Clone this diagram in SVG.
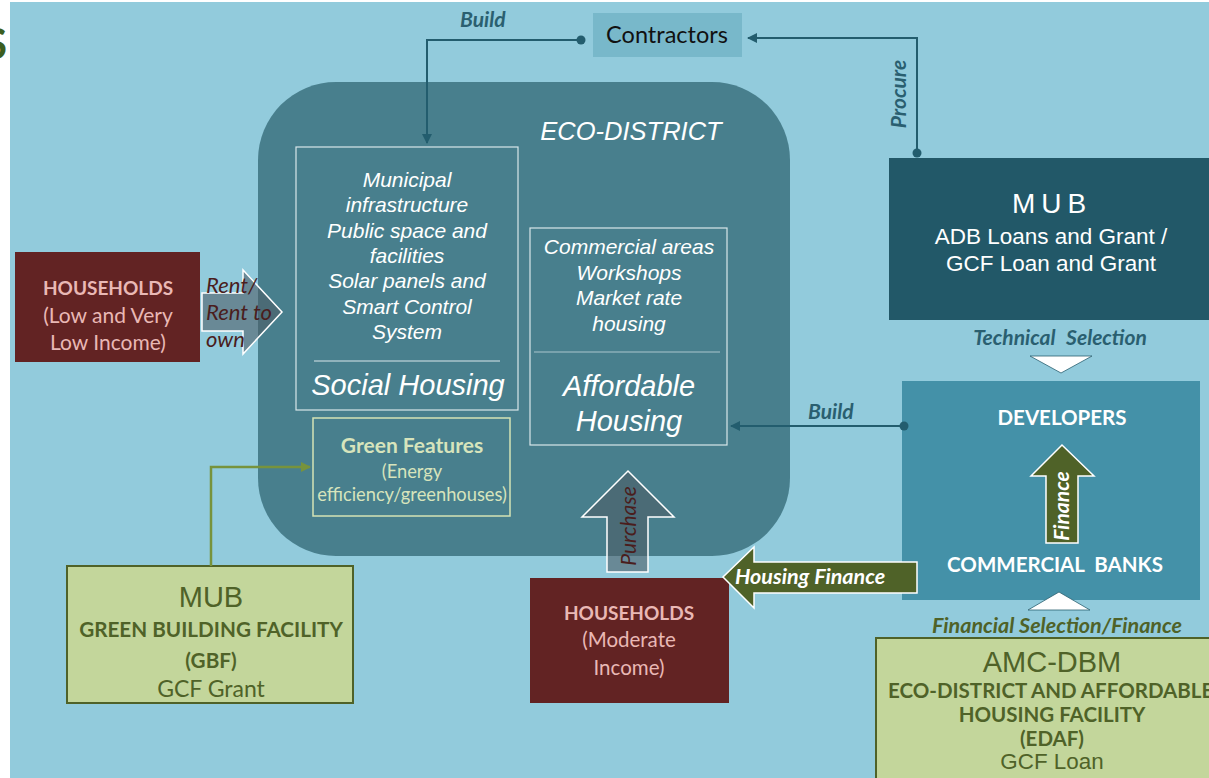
<svg xmlns="http://www.w3.org/2000/svg" width="1209" height="778" viewBox="0 0 1209 778">
<style>
.cal{font-family:Lato,"Open Sans","Liberation Sans",sans-serif}
.ar{font-family:"Liberation Sans",Arial,sans-serif}
.wi{fill:#ffffff;font-style:italic;text-anchor:middle}
.lbl{fill:#2a5f70;font-weight:bold;font-style:italic}
.hh{fill:#e9b8b5;text-anchor:middle}
.gr{fill:#4f6228;text-anchor:middle}
.conn{stroke:#235d6e;stroke-width:2;fill:none}
.gconn{stroke:#77933c;stroke-width:2.5;fill:none}
.garrow{fill:#4f6228;stroke:#ffffff;stroke-width:1.5}
.parrow{fill:#4e5e68;fill-opacity:0.6;stroke:#ffffff;stroke-width:1.5}
.gbox{fill:#c3d69b;stroke:#4f6228;stroke-width:2}
.mbox{fill:#622323}
</style>
<defs>
<marker id="ah" viewBox="0 0 10 10" refX="9" refY="5" markerWidth="5" markerHeight="5" orient="auto" markerUnits="strokeWidth"><path d="M0,0 L10,5 L0,10 z" fill="#235d6e"/></marker>
<marker id="gah" viewBox="0 0 10 10" refX="9" refY="5" markerWidth="4" markerHeight="4" orient="auto" markerUnits="strokeWidth"><path d="M0,0 L10,5 L0,10 z" fill="#77933c"/></marker>
</defs>
<rect x="0" y="0" width="1209" height="778" fill="#ffffff"/>
<rect x="10" y="2" width="1199" height="776" fill="#92cbdc"/>
<text x="-16" y="59" class="cal" font-size="42" font-weight="bold" fill="#3b5e20">S</text>

<g id="eco-district">
<rect x="258" y="82" width="532" height="474" rx="78" ry="78" fill="#487f8d"/>
<text x="631" y="140" class="ar wi" font-size="25.5">ECO-DISTRICT</text>
</g>

<g id="social-housing">
<rect x="296" y="147" width="222" height="263" fill="none" stroke="#d9e7ea" stroke-width="1.2"/>
<text class="ar wi" font-size="21"><tspan x="407" y="187">Municipal</tspan><tspan x="407" y="212">infrastructure</tspan><tspan x="407" y="238">Public space and</tspan><tspan x="407" y="263">facilities</tspan><tspan x="407" y="288">Solar panels and</tspan><tspan x="407" y="314">Smart Control</tspan><tspan x="407" y="339">System</tspan></text>
<line x1="314" y1="361" x2="500" y2="361" stroke="#d9e7ea" stroke-width="1"/>
<text x="408" y="395" class="ar wi" font-size="29">Social Housing</text>
</g>

<g id="affordable-housing">
<rect x="530" y="228" width="197" height="217" fill="none" stroke="#d9e7ea" stroke-width="1.2"/>
<text class="ar wi" font-size="21"><tspan x="629" y="254">Commercial areas</tspan><tspan x="629" y="280">Workshops</tspan><tspan x="629" y="305">Market rate</tspan><tspan x="629" y="331">housing</tspan></text>
<line x1="534" y1="352" x2="720" y2="352" stroke="#a9c6ce" stroke-width="1.2"/>
<text class="ar wi" font-size="29"><tspan x="629" y="396">Affordable</tspan><tspan x="629" y="431">Housing</tspan></text>
</g>

<g id="green-features">
<rect x="313" y="418" width="197" height="98" fill="none" stroke="#d4e3b5" stroke-width="1.5"/>
<text x="412" y="453" class="cal" font-size="21" font-weight="bold" fill="#d7e4bc" text-anchor="middle">Green Features</text>
<text class="cal" font-size="18.3" fill="#d7e4bc" text-anchor="middle"><tspan x="412" y="478">(Energy</tspan><tspan x="412" y="501">efficiency/greenhouses)</tspan></text>
</g>

<g id="households-low">
<rect x="15" y="252" width="185" height="110" class="mbox"/>
<text x="108" y="295" class="cal hh" font-size="19" font-weight="bold">HOUSEHOLDS</text>
<text class="cal hh" font-size="21"><tspan x="108" y="323">(Low and Very</tspan><tspan x="108" y="350">Low Income)</tspan></text>
</g>

<g id="contractors">
<rect x="593" y="13" width="149" height="44" fill="#78b8ca"/>
<text x="667" y="43" class="cal" font-size="23.5" fill="#111111" text-anchor="middle">Contractors</text>
</g>

<g id="mub-top">
<rect x="889" y="158" width="320" height="162" fill="#225868"/>
<text x="1052" y="213" class="ar" font-size="28" fill="#ffffff" text-anchor="middle" letter-spacing="6">MUB</text>
<text class="ar" font-size="22.5" fill="#ffffff" text-anchor="middle"><tspan x="1051" y="244">ADB Loans and Grant /</tspan><tspan x="1051" y="271">GCF Loan and Grant</tspan></text>
</g>

<g id="developers-banks">
<rect x="902" y="381" width="298" height="219" fill="#4491a8"/>
<text x="1062" y="425" class="cal" font-size="20.5" font-weight="bold" fill="#ffffff" text-anchor="middle">DEVELOPERS</text>
<text x="1055" y="572" class="cal" font-size="20.5" font-weight="bold" fill="#ffffff" text-anchor="middle" word-spacing="5">COMMERCIAL BANKS</text>
</g>

<g id="households-moderate">
<rect x="530" y="578" width="199" height="125" class="mbox"/>
<text x="629" y="620" class="cal hh" font-size="19" font-weight="bold">HOUSEHOLDS</text>
<text class="cal hh" font-size="20.5"><tspan x="629" y="647">(Moderate</tspan><tspan x="629" y="675">Income)</tspan></text>
</g>

<g id="mub-gbf">
<rect x="67" y="566" width="286" height="137" class="gbox"/>
<text x="211" y="607" class="ar gr" font-size="29">MUB</text>
<text class="cal gr" font-size="20.7" font-weight="bold"><tspan x="211" y="637">GREEN BUILDING FACILITY</tspan><tspan x="211" y="668">(GBF)</tspan></text>
<text x="211" y="697" class="cal gr" font-size="23">GCF Grant</text>
</g>

<g id="amc-dbm">
<rect x="876" y="638" width="345" height="145" class="gbox"/>
<text x="1052" y="672" class="ar gr" font-size="29">AMC-DBM</text>
<text class="cal gr" font-size="20.5" font-weight="bold"><tspan x="888" y="698" text-anchor="start">ECO-DISTRICT AND AFFORDABLE</tspan><tspan x="1052" y="722">HOUSING FACILITY</tspan><tspan x="1052" y="746">(EDAF)</tspan></text>
<text x="1052" y="769" class="ar gr" font-size="22.4">GCF Loan</text>
</g>

<g id="connectors">
<polyline points="581,40 427,40 427,143" class="conn" marker-end="url(#ah)"/>
<circle cx="581" cy="40" r="4.5" fill="#235d6e"/>
<text x="460" y="27" class="cal lbl" font-size="21">Build</text>
<polyline points="917,153 917,38 748,38" class="conn" marker-end="url(#ah)"/>
<circle cx="917" cy="153" r="4.5" fill="#235d6e"/>
<text transform="translate(906,94) rotate(-90)" class="cal lbl" font-size="21" text-anchor="middle">Procure</text>
<line x1="904" y1="426" x2="731" y2="426" class="conn" marker-end="url(#ah)"/>
<circle cx="904" cy="426" r="4.5" fill="#235d6e"/>
<text x="808" y="419" class="cal lbl" font-size="21">Build</text>
<polyline points="211,566 211,467 310,467" class="gconn" marker-end="url(#gah)"/>
<text x="1060" y="345" class="cal lbl" font-size="21" text-anchor="middle" word-spacing="6">Technical Selection</text>
<polygon points="1030,356 1092,356 1061,373" fill="#ffffff" stroke="#2a5f70" stroke-width="0.8"/>
<polygon points="1028,610 1090,610 1059,592" fill="#ffffff" stroke="#2a5f70" stroke-width="0.8"/>
<text x="1057" y="633" class="cal" font-size="21.5" font-weight="bold" font-style="italic" fill="#4f6228" text-anchor="middle">Financial Selection/Finance</text>
<polygon points="202,293 243,293 243,270 282,312 243,354 243,331 202,331" class="parrow"/>
<text class="cal" font-size="22" font-style="italic" fill="#4a1d1d"><tspan x="206" y="293">Rent/</tspan><tspan x="206" y="320">Rent to</tspan><tspan x="206" y="347">own</tspan></text>
<polygon points="607,572 607,517 582,517 628,471 674,517 648,517 648,572" class="parrow"/>
<text transform="translate(636,526) rotate(-90)" class="cal" font-size="21" font-style="italic" fill="#4a1d1d" text-anchor="middle">Purchase</text>
<polygon points="1046,543 1046,476 1031,476 1062,445 1094,476 1078,476 1078,543" class="garrow"/>
<text transform="translate(1069,506) rotate(-90)" class="cal" font-size="21" font-weight="bold" font-style="italic" fill="#ffffff" text-anchor="middle">Finance</text>
<polygon points="917,562 754,562 754,547 723,577 754,608 754,593 917,593" class="garrow"/>
<text x="735" y="584" class="cal" font-size="21.5" font-weight="bold" font-style="italic" fill="#ffffff">Housing Finance</text>
</g>
</svg>
